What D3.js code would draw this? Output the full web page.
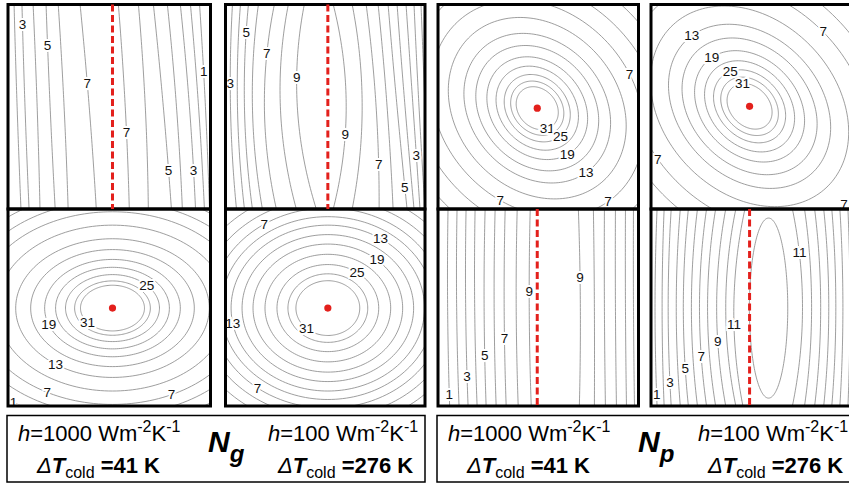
<!DOCTYPE html>
<html>
<head>
<meta charset="utf-8">
<script src="https://cdn.jsdelivr.net/npm/d3@7"></script>
<style>
  body { margin: 0; background: #fff; }
  svg { display: block; font-family: "Liberation Sans", Arial, sans-serif; }
  .contour { fill: none; stroke: #858585; stroke-width: 0.8; }
  .clabel { font-size: 13.5px; fill: #111; stroke: #fff; stroke-width: 4px; paint-order: stroke;
            text-anchor: middle; dominant-baseline: central; }
  .frame { fill: none; stroke: #000; stroke-width: 3; }
  .optimum-line { stroke: #e3201c; stroke-width: 3; stroke-dasharray: 7 3.5; }
  .optimum-dot { fill: #e3201c; }
  .legend-box { fill: none; stroke: #000; stroke-width: 1.5; }
  .legend { font-size: 22px; fill: #000; white-space: pre; }
</style>
</head>
<body>
<div id="chart"></div>
<script>
// ---- data (panel units 0-100 across and down each panel) ----

// cases: Ng h=1000, Ng h=100, Np h=1000, Np h=100
const hValues = [1000, 100, 1000, 100];
const dTcold = [41, 276, 41, 276];
const groupSymbols = [["N", "g"], ["N", "p"]];

// location of the optimum (red marker) for each case
const optimumU = [51.6, 51.3, 49.5, 48.8];
const optimumV = [50.3, 50.3, 50.7, 49.8];

// open contour lines: [side + level, u at top, u at middle, u at bottom]
const ngLines1000 = [
  ["L2", 3.0, 4.5, 6.4], ["L3", 6.9, 8.4, 10.4], ["L4", 12.4, 14.4, 15.8], ["L5", 18.8, 20.8, 23.3],
  ["L6", 24.8, 27.7, 29.7], ["L7", 35.6, 40.1, 43.6],
  ["R7", 54.5, 57.9, 59.9], ["R6", 64.4, 67.8, 69.3], ["R5", 71.8, 76.7, 80.7], ["R4", 78.7, 83.2, 86.1],
  ["R3", 85.1, 89.6, 92.6], ["R2", 90.1, 94.1, 97.0], ["R1", 94.6, 97.5, 99.5]
];
const ngLines100 = [
  ["L3", 3.5, 2.5, 5.5], ["L4", 7.5, 6, 9.5], ["L5", 11.5, 9.5, 13.5], ["L6", 16.5, 13.5, 18.5],
  ["L7", 24.5, 19.5, 25.5], ["L8", 31.5, 27.5, 35.5], ["L9", 39.5, 36, 45.5],
  ["R9", 54, 60.5, 54], ["R8", 63.5, 68.5, 63.5], ["R7", 70.5, 75.5, 77], ["R6", 76.5, 81, 84],
  ["R5", 81.5, 86, 91], ["R4", 86, 90, 94.5], ["R3", 90.5, 94, 97.5], ["R2", 94.5, 97, 100], ["R1", 98, 100, 102]
];
const npLines1000 = [
  ["L1", 5, 4.8, 5.8], ["L2", 9.5, 9.3, 10.5], ["L3", 14, 13.8, 15], ["L4", 18.5, 18.3, 19.5],
  ["L5", 23.5, 23, 24], ["L6", 28.5, 28, 29], ["L7", 33.5, 33, 34], ["L8", 39.5, 39, 40], ["L9", 46, 45.5, 46.5],
  ["R9", 70, 71, 70.5], ["R8", 77.5, 78, 78], ["R7", 83, 83, 83.5], ["R6", 88.5, 88.5, 89],
  ["R5", 93.5, 93.5, 94], ["R4", 97.5, 97.5, 98]
];
const npLines100 = [
  ["L1", 3, 2, 3], ["L2", 6.5, 5.5, 6.5], ["L3", 10, 8.5, 10], ["L4", 14.5, 12.5, 14.5],
  ["L5", 18.5, 16, 18.5], ["L6", 23, 20, 23], ["L7", 27.5, 24, 27.5], ["L8", 32, 28, 32],
  ["L9", 37, 32.5, 37], ["L10", 42, 37, 42], ["L11", 46.5, 41, 45.5],
  ["R11", 70, 75, 70], ["R10", 76, 79.5, 76], ["R9", 81, 84, 81], ["R8", 85.5, 88, 85.5],
  ["R7", 89.5, 91.5, 89.5], ["R6", 93.5, 95, 93.5], ["R5", 97.5, 98.5, 97.5]
];

// closed contours: [level, semi-axis a, semi-axis b]
const ngRings1000 = [
  [31, 15.8, 11.6], [28, 18.7, 13.8], [25, 23.2, 17.0], [22, 28.1, 20.7], [19, 33.5, 24.7], [16, 40.4, 29.7],
  [13, 47.8, 35.2], [10, 57.1, 42.1], [7, 66.5, 48.9], [4, 73.9, 54.4], [1, 81.3, 59.8]
];
const ngRings100 = [
  [31, 16, 13.9], [28, 20, 17.4], [25, 25.5, 22.1], [22, 31.5, 27.3], [19, 37.5, 32.5], [16, 43, 37.3],
  [13, 48.5, 42.1], [10, 53.5, 46.4], [7, 58.5, 50.8], [4, 64, 55.5], [1, 70, 60.7]
];
const npRings1000 = [
  [31, 11.5, 9.4], [28, 14.5, 11.9], [25, 18, 14.8], [22, 22.5, 18.4], [19, 27.5, 22.5], [16, 33.5, 27.5],
  [13, 40, 32.8], [10, 48.5, 39.8], [7, 58, 47.5], [4, 68.5, 56.1], [1, 80, 65.6]
];
const npRings100 = [
  [31, 12.5, 9.6], [28, 16, 12.3], [25, 20, 15.4], [22, 25, 19.2], [19, 30.5, 23.5], [16, 37.5, 28.8],
  [13, 45, 34.6], [10, 55, 42.3], [7, 67, 51.5], [4, 79, 60.8], [1, 92.5, 71.2]
];
const npRingsBottom100 = [[12, 9.5, 45.7]];
const npRingCenterBottom100 = [58.2, 50.3];

// contour labels on open lines: [line key, v]
const ngLineLabels1000 = [["L3", 10], ["L5", 20], ["L7", 38.5], ["R1", 33], ["R7", 62.4], ["R5", 81], ["R3", 81]];
const ngLineLabels100 = [["L3", 38.5], ["L5", 13.7], ["L7", 24], ["L9", 35.6], ["R9", 63.4], ["R7", 78], ["R3", 73.7], ["R5", 89.3]];
const npLineLabels1000 = [["L1", 94], ["L3", 84.8], ["L5", 74.6], ["L7", 65.5], ["L9", 42], ["R9", 35]];
const npLineLabels100 = [["L1", 94.4], ["L3", 88.3], ["L5", 81.2], ["L7", 75.1], ["L9", 67.5], ["L11", 58.4], ["R11", 22.3]];
// contour labels on rings: [level, angle along the ring in degrees]
const ngRingLabels1000 = [[31, 141], [25, -43], [19, 160], [13, 126], [7, 119], [7, 64], [1, 127]];
const ngRingLabels100 = [[31, 132], [25, -55], [19, -49], [13, -57], [13, 169], [7, -123], [7, 127]];
const npRingLabels1000 = [[31, 22], [25, 6], [19, 14], [13, 9], [7, -69], [7, 71], [7, 9]];
const npRingLabels100 = [[31, -146], [25, -160], [19, -171], [13, -173], [7, -90], [7, 102], [7, 1]];

// ---- layout ----
const width = 849, height = 484;
const colX = [[8, 210.5], [225.5, 425], [438, 638.5], [651, 853]];
const rowY = [[4.5, 209], [209, 406]];

const panelSpecs = [
  { col: 0, row: 0, c: 0, lines: ngLines1000, lineLabels: ngLineLabels1000, marker: "line" },
  { col: 1, row: 0, c: 1, lines: ngLines100, lineLabels: ngLineLabels100, marker: "line" },
  { col: 2, row: 0, c: 2, rings: npRings1000, ringLabels: npRingLabels1000, rot: 45, marker: "dot" },
  { col: 3, row: 0, c: 3, rings: npRings100, ringLabels: npRingLabels100, rot: 45, marker: "dot" },
  { col: 0, row: 1, c: 0, rings: ngRings1000, ringLabels: ngRingLabels1000, rot: 0, marker: "dot" },
  { col: 1, row: 1, c: 1, rings: ngRings100, ringLabels: ngRingLabels100, rot: 0, marker: "dot" },
  { col: 2, row: 1, c: 2, lines: npLines1000, lineLabels: npLineLabels1000, marker: "line" },
  { col: 3, row: 1, c: 3, lines: npLines100, lineLabels: npLineLabels100, marker: "line",
    rings: npRingsBottom100, ringCenter: npRingCenterBottom100, rot: 0 }
];

const svg = d3.select("#chart").append("svg").attr("width", width).attr("height", height);

// quadratic through the top / middle / bottom readings of a line
function bandU(d, v) {
  const [, t, m, b] = d;
  return t * (v - 50) * (v - 100) / 5000 - m * v * (v - 100) / 2500 + b * v * (v - 50) / 5000;
}
function ringPoint(center, r, rot, deg) {
  const th = deg * Math.PI / 180, ph = rot * Math.PI / 180;
  const p = r[1] * Math.cos(th), q = r[2] * Math.sin(th);
  return [center[0] + p * Math.cos(ph) - q * Math.sin(ph), center[1] + p * Math.sin(ph) + q * Math.cos(ph)];
}

const vSamples = d3.range(-4, 104.1, 2);
const angles = d3.range(0, 360, 2);
const markerLayer = [];

panelSpecs.forEach((p, i) => {
  const [x0, x1] = colX[p.col], [y0, y1] = rowY[p.row];
  const x = d3.scaleLinear().domain([0, 100]).range([x0, x1]);
  const y = d3.scaleLinear().domain([0, 100]).range([y0, y1]);
  const line = d3.line().x(d => x(d[0])).y(d => y(d[1]));
  const closed = d3.line().x(d => x(d[0])).y(d => y(d[1])).curve(d3.curveLinearClosed);

  svg.append("clipPath").attr("id", `clip-${i}`)
    .append("rect").attr("x", x0).attr("y", y0).attr("width", x1 - x0).attr("height", y1 - y0);
  const g = svg.append("g").attr("clip-path", `url(#clip-${i})`);

  const center = p.ringCenter || [optimumU[p.c], optimumV[p.c]];

  if (p.lines) {
    g.selectAll(".band").data(p.lines).join("path")
      .attr("class", "contour band")
      .attr("d", d => line(vSamples.map(v => [bandU(d, v), v])));
  }
  if (p.rings) {
    g.selectAll(".ring").data(p.rings).join("path")
      .attr("class", "contour ring")
      .attr("d", r => closed(angles.map(a => ringPoint(center, r, p.rot, a))));
  }

  // contour labels
  const labels = [];
  (p.lineLabels || []).forEach(([key, v]) => {
    const d = p.lines.find(l => l[0] === key);
    labels.push({ text: key.slice(1), u: bandU(d, v), v });
  });
  (p.ringLabels || []).forEach(([lev, deg]) => {
    const r = p.rings.find(rr => rr[0] === lev);
    const [u, v] = ringPoint(center, r, p.rot, deg);
    labels.push({ text: String(lev), u, v });
  });
  svg.append("g").selectAll("text").data(labels).join("text")
    .attr("class", "clabel")
    .attr("x", d => x(d.u)).attr("y", d => y(d.v))
    .text(d => d.text);

  markerLayer.push({ p, x, y });
});

// panel frames
panelSpecs.forEach(p => {
  const [x0, x1] = colX[p.col], [y0, y1] = rowY[p.row];
  svg.append("rect").attr("class", "frame")
    .attr("x", x0).attr("y", y0).attr("width", x1 - x0).attr("height", y1 - y0);
});

// optimum markers on top
markerLayer.forEach(({ p, x, y }) => {
  if (p.marker === "line") {
    svg.append("line").attr("class", "optimum-line")
      .attr("x1", x(optimumU[p.c])).attr("x2", x(optimumU[p.c]))
      .attr("y1", y(0)).attr("y2", y(100));
  } else {
    svg.append("circle").attr("class", "optimum-dot")
      .attr("cx", x(optimumU[p.c])).attr("cy", y(optimumV[p.c])).attr("r", 3.6);
  }
});

// ---- legend boxes ----
const boxX = [[7, 425], [437, 856]];
const boxY = [415.5, 482];

function hText(xp, yp, h) {
  const t = svg.append("text").attr("class", "legend").attr("x", xp).attr("y", yp).attr("font-size", 23);
  t.append("tspan").attr("font-style", "italic").text("h");
  t.append("tspan").text(`=${h} Wm`);
  t.append("tspan").attr("font-size", 16).attr("dy", -9).text("-2");
  t.append("tspan").attr("dy", 9).text("K");
  t.append("tspan").attr("font-size", 16).attr("dy", -9).text("-1");
}
function dtText(xp, yp, dt) {
  const t = svg.append("text").attr("class", "legend").attr("x", xp).attr("y", yp);
  t.append("tspan").attr("font-style", "italic").text("\u0394");
  t.append("tspan").attr("font-style", "italic").attr("font-weight", "bold").text("T");
  t.append("tspan").attr("font-size", 16).attr("dy", 5).text("cold");
  t.append("tspan").attr("font-weight", "bold").attr("dy", -5).text(` =${dt} K`);
}
function symText(xp, yp, sym) {
  const t = svg.append("text").attr("class", "legend").attr("x", xp).attr("y", yp)
    .attr("font-style", "italic").attr("font-weight", "bold");
  t.append("tspan").attr("font-size", 30).text(sym[0]);
  t.append("tspan").attr("font-size", 24).attr("dy", 10).text(sym[1]);
}

groupSymbols.forEach((sym, gi) => {
  const [bx0, bx1] = boxX[gi];
  svg.append("rect").attr("class", "legend-box")
    .attr("x", bx0).attr("y", boxY[0]).attr("width", bx1 - bx0).attr("height", boxY[1] - boxY[0]);
  const off = gi === 0 ? 0 : 430;
  hText(18 + off, 441, hValues[gi * 2]);
  dtText(37 + off, 473, dTcold[gi * 2]);
  symText(208 + off, 452, sym);
  hText(268 + off, 441, hValues[gi * 2 + 1]);
  dtText(278 + off, 473, dTcold[gi * 2 + 1]);
});
</script>
</body>
</html>
